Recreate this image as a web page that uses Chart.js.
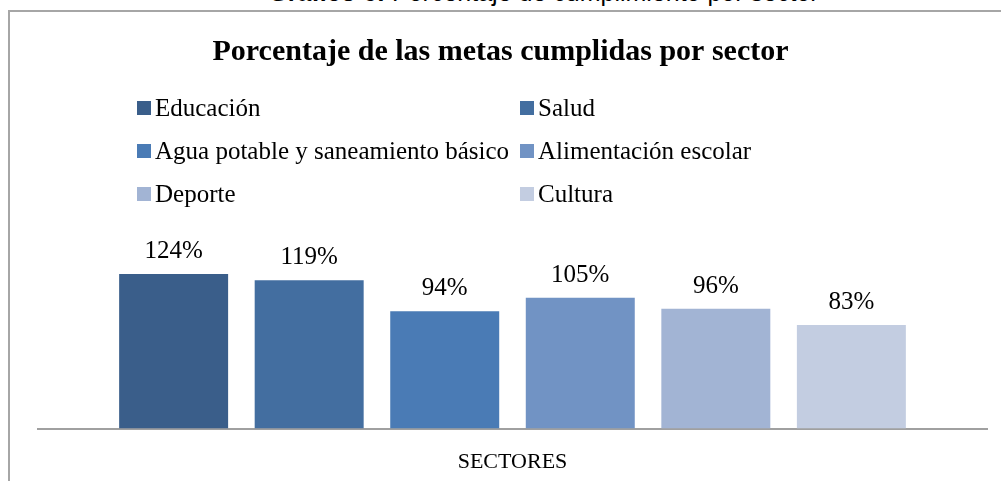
<!DOCTYPE html>
<html>
<head>
<meta charset="utf-8">
<script src="https://cdn.jsdelivr.net/npm/chart.js@4.4.1/dist/chart.umd.min.js"></script>
<style>
  html, body { margin: 0; padding: 0; background: #fff; overflow: hidden; }
  #wrap { position: relative; width: 1001px; height: 481px; }
  #caption {
    position: absolute; left: 43px; width: 1001px; top: -22px;
    text-align: center; font-family: "Liberation Sans", Arial, sans-serif;
    font-size: 25px; color: #000; white-space: nowrap;
  }
  #frame {
    position: absolute; left: 8px; top: 10px; width: 1020px; height: 500px;
    border-left: 2px solid #a6a6a6; border-top: 2px solid #a6a6a6;
  }
  canvas { position: absolute; left: 0; top: 0; }
</style>
</head>
<body>
<div id="wrap">
  <div id="caption"><b>Gráfico 6:</b> Porcentaje de cumplimiento por sector</div>
  <div id="frame"></div>
  <canvas id="chart" width="1001" height="481"></canvas>
</div>
<script>
const chartTitle = "Porcentaje de las metas cumplidas por sector";
const categories = ["SECTORES"];
const sectors = [
  "Educación",
  "Salud",
  "Agua potable y saneamiento básico",
  "Alimentación escolar",
  "Deporte",
  "Cultura",
];
const values = [124, 119, 94, 105, 96, 83];
const colors = ["#3a5e8a", "#436ea0", "#4a7bb5", "#7193c4", "#a2b4d4", "#c3cde1"];

const SERIF = '"Liberation Serif", "Times New Roman", serif';

// two-column legend like the Excel original
const gridLegend = {
  id: "gridLegend",
  afterDraw(chart, args, opts) {
    const ctx = chart.ctx;
    ctx.save();
    ctx.font = `${opts.fontSize}px ${SERIF}`;
    ctx.textBaseline = "middle";
    chart.data.datasets.forEach((ds, i) => {
      const col = i % 2, row = Math.floor(i / 2);
      const x = opts.cols[col];
      const y = opts.top + row * opts.rowGap;
      ctx.fillStyle = ds.backgroundColor;
      ctx.fillRect(x, y - opts.box / 2, opts.box, opts.box);
      ctx.fillStyle = "#000";
      ctx.fillText(ds.label, x + opts.box + 4, y + 1);
    });
    ctx.restore();
  },
};

// value labels above each bar
const barLabels = {
  id: "barLabels",
  afterDatasetsDraw(chart) {
    const ctx = chart.ctx;
    ctx.save();
    ctx.font = `25px ${SERIF}`;
    ctx.fillStyle = "#000";
    ctx.textAlign = "center";
    ctx.textBaseline = "alphabetic";
    chart.data.datasets.forEach((ds, i) => {
      const bar = chart.getDatasetMeta(i).data[0];
      ctx.fillText(ds.data[0] + "%", bar.x, bar.y - 16);
    });
    ctx.restore();
  },
};

// invisible side axes only reserve room, so the title stays centred on the page
const spacer = (w, pos) => ({
  display: true,
  position: pos,
  grid: { display: false, drawTicks: false },
  border: { display: false },
  ticks: { display: false },
  afterFit(s) { s.width = w; },
});

new Chart(document.getElementById("chart"), {
  type: "bar",
  data: {
    labels: categories,
    datasets: sectors.map((s, i) => ({
      label: s,
      data: [values[i]],
      backgroundColor: colors[i],
      borderWidth: 0,
      categoryPercentage: 0.857,
      barPercentage: 0.804,
    })),
  },
  options: {
    responsive: false,
    animation: false,
    layout: { padding: { left: 2, right: 2, top: 0, bottom: -14 } },
    scales: {
      x: {
        grid: { display: false, drawTicks: false },
        border: { display: true, color: "#a0a0a0", width: 2 },
        ticks: { color: "#000", padding: 20, font: { family: SERIF, size: 22 } },
      },
      y: { ...spacer(36, "left"), min: 0, max: 140 },
      yRight: { ...spacer(12, "right"), min: 0, max: 140 },
    },
    plugins: {
      legend: { display: false },
      tooltip: { enabled: false },
      title: {
        display: true,
        text: chartTitle,
        color: "#000",
        font: { family: SERIF, size: 30, weight: "bold" },
        padding: { top: 34, bottom: 184 },
      },
      gridLegend: { cols: [137, 520], top: 108, rowGap: 43, box: 14, fontSize: 25 },
    },
  },
  plugins: [gridLegend, barLabels],
});
</script>
</body>
</html>
